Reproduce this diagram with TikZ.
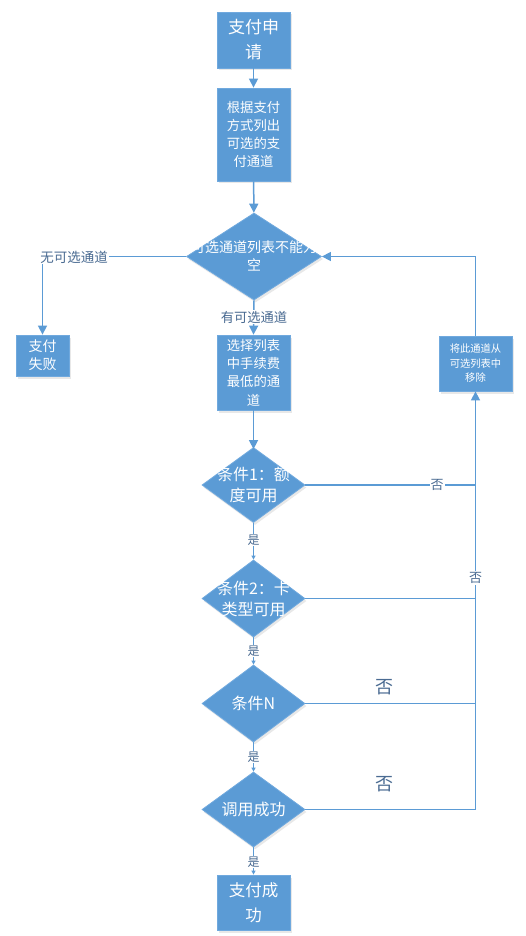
\documentclass[tikz,border=0pt]{standalone}
\usepackage{fontspec}
\newfontfamily\cjk{Noto Sans CJK SC}
\usetikzlibrary{arrows.meta,shapes.geometric,shadows}
\definecolor{boxblue}{HTML}{5B9BD5}
\definecolor{boxedge}{HTML}{70A9DE}
\definecolor{lineblue}{HTML}{5B9BD5}
\definecolor{labtext}{HTML}{4A6B92}
\tikzset{
  base/.style={fill=boxblue, draw=boxedge, line width=0.8pt, text=white, inner sep=0pt,
    drop shadow={opacity=0.18, shadow xshift=1.5pt, shadow yshift=-2.5pt}},
  procbox/.style={base, rectangle, minimum width=73pt, align=center, font=\cjk},
  decision/.style={base, diamond, minimum width=103pt},
  dtext/.style={text=white, align=center, font=\cjk\fontsize{16}{21}\selectfont, inner sep=0pt},
  conn/.style={draw=lineblue, line width=1.5pt, -{Triangle[width=9pt,length=9pt]}},
  plain/.style={draw=lineblue, line width=1.5pt},
  yesconn/.style={draw=lineblue, line width=0.9pt, -{Triangle[width=4pt,length=4pt]}},
  lab/.style={text=labtext, font=\cjk\fontsize{12}{14}\selectfont, inner sep=1pt},
  labw/.style={lab, fill=white},
}
\begin{document}
\begin{tikzpicture}[x=1pt,y=-1pt]
\useasboundingbox (0,0) rectangle (526,936);
\fill[white] (0,0) rectangle (526,936);
% nodes
\node[procbox, minimum height=56pt, font=\cjk\fontsize{17}{25}\selectfont] (b1) at (253.5,40) {支付申\\请};
\node[procbox, minimum height=93pt, font=\cjk\fontsize{13.3}{18.3}\selectfont] (b2) at (253.5,134.5) {根据支付\\方式列出\\可选的支\\付通道};
\node[base, diamond, minimum width=135pt, minimum height=87pt] (d1) at (254,256.5) {};
\node[dtext, font=\cjk\fontsize{14}{18}\selectfont] at (254,256) {可选通道列表不能为\\空};
\node[procbox, minimum width=53pt, minimum height=41pt, font=\cjk\fontsize{14}{18}\selectfont] (fail) at (42.5,355.5) {支付\\失败};
\node[procbox, minimum height=75pt, font=\cjk\fontsize{13.3}{18.3}\selectfont] (b3) at (253.5,372.5) {选择列表\\中手续费\\最低的通\\道};
\node[procbox, minimum height=55pt, font=\cjk\fontsize{10.3}{14.5}\selectfont] (rm) at (475.5,363.5) {将此通道从\\可选列表中\\移除};
\node[decision, minimum height=75pt] (d2) at (253.5,485) {};
\node[dtext] at (d2) {条件1：额\\度可用};
\node[decision, minimum height=77pt] (d3) at (253.5,598.5) {};
\node[dtext] at (d3) {条件2：卡\\类型可用};
\node[decision, minimum height=77pt] (d4) at (253.5,703.5) {};
\node[dtext] at (d4) {条件N};
\node[decision, minimum height=75pt] (d5) at (253.5,809.5) {};
\node[dtext] at (d5) {调用成功};
\node[procbox, minimum height=55pt, font=\cjk\fontsize{16.5}{25}\selectfont] (ok) at (253.5,902.5) {支付成\\功};
% bus coordinates
\coordinate (bus5) at (475.5,809.5);
% main flow
\draw[conn] (b1) -- (b2);
\draw[conn] (b2) -- (d1);
\draw[conn] (d1.west) -| (fail.north);
\node[labw, font=\cjk\fontsize{13.5}{16}\selectfont] at (74,257) {无可选通道};
\draw[conn] (d1.south) -- (b3.north);
\node[labw, font=\cjk\fontsize{13.3}{16}\selectfont] at (254,317) {有可选通道};
\draw[conn] (b3.south) -- ([yshift=-2pt]d2.north);
\draw[yesconn] (d2.south) -- (d3.north);
\node[labw] at (253.5,540) {是};
\draw[yesconn] (d3.south) -- (d4.north);
\node[labw] at (253.5,651) {是};
\draw[yesconn] (d4.south) -- (d5.north);
\node[labw] at (253.5,757) {是};
\draw[yesconn] (d5.south) -- (ok.north);
\node[labw] at (253.5,862) {是};
% no branches
\draw[plain] (d2.east) -- (d2.east -| bus5);
\node[labw, font=\cjk\fontsize{13}{15}\selectfont] at (437,485) {否};
\draw[plain] (d3.east) -- (d3.east -| bus5);
\draw[plain] (d4.east) -- (d4.east -| bus5);
\node[lab, font=\cjk\fontsize{18}{20}\selectfont] at (384,687) {否};
\draw[plain] (d5.east) -- (bus5);
\node[lab, font=\cjk\fontsize{18}{20}\selectfont] at (384,784) {否};
\draw[conn] (bus5) -- (rm.south);
\node[labw, font=\cjk\fontsize{13}{15}\selectfont] at (475.5,578) {否};
\draw[conn] (rm.north) |- (d1.east);
\end{tikzpicture}
\end{document}
